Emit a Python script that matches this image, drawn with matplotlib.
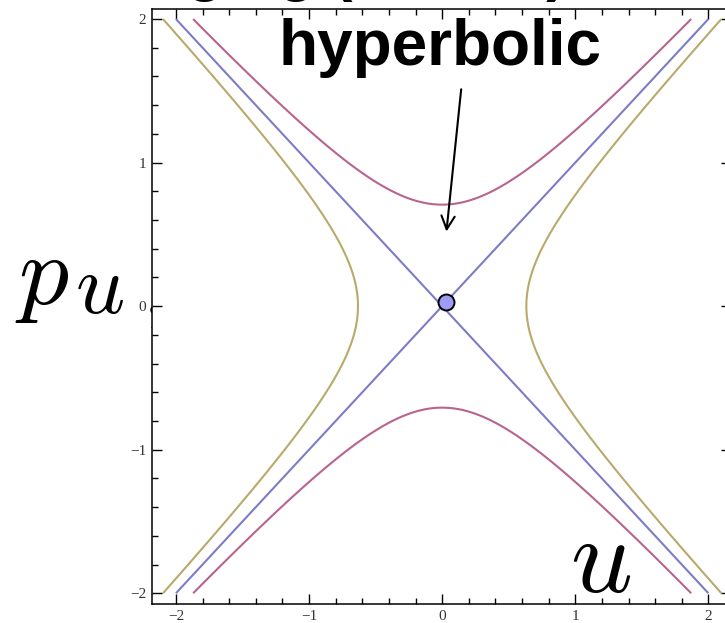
import numpy as np
import matplotlib.pyplot as plt
from matplotlib.ticker import MultipleLocator

plt.rcParams['mathtext.fontset'] = 'cm'

# H(u, p) = (p^2 - u^2) / 2 near the saddle, three energy levels
levels = [-0.2, 0.0, 0.25]
level_colors = ["#b9aa6c", "#7c7cc8", "#b8648f"]

u_range = (-2.25, 2.25)
p_range = (-2.0, 2.0)

fixed_point = (0.03, 0.03)
tick_values = [-2, -1, 0, 1, 2]

W, H_PX = 725, 623
fig = plt.figure(figsize=(W / 100, H_PX / 100), dpi=100)
ax = fig.add_axes([152 / W, 19 / H_PX, 579 / W, 595 / H_PX])

u = np.linspace(*u_range, 901)
p = np.linspace(*p_range, 801)
U, P = np.meshgrid(u, p)
energy = (P ** 2 - U ** 2) / 2
ax.contour(U, P, energy, levels=levels, colors=level_colors, linewidths=1.5)

ax.plot(*fixed_point, 'o', ms=11.5, mfc="#9c9cf4", mec="black", mew=1.4, zorder=5)

ax.set_xlim(-2.18, 2.17)
ax.set_ylim(-2.075, 2.07)
ax.set_xticks(tick_values)
ax.set_yticks(tick_values)
ax.xaxis.set_minor_locator(MultipleLocator(0.2))
ax.yaxis.set_minor_locator(MultipleLocator(0.2))
ax.tick_params(which='both', direction='in', top=True, right=True, width=1,
               labelsize=11, labelcolor="#333333", pad=4)
ax.tick_params(which='major', length=7)
ax.tick_params(which='minor', length=4)
for lab in ax.get_xticklabels() + ax.get_yticklabels():
    lab.set_family('Liberation Serif')
for s in ax.spines.values():
    s.set_linewidth(1.1)

# arrow pointing at the fixed point
ax.annotate("", xy=(0.03, 0.5), xytext=(0.145, 1.53),
            arrowprops=dict(arrowstyle='->', lw=1.5, color='black', mutation_scale=24))

fig.text(440 / W, 1 - 65 / H_PX, "hyperbolic", fontsize=46, fontweight='bold',
         family='Liberation Sans', ha='center', va='baseline')
fig.text(44 / W, 1 + 11.5 / H_PX, "Swinging (saddle)", fontsize=44, fontweight='bold',
         family='Liberation Sans', ha='left', va='baseline')

# axis names, partly tucked behind the frame
fig.text(15 / W, 1 - 304 / H_PX, r"$p$", fontsize=72, va='baseline', zorder=-1)
fig.text(75 / W, 1 - 313 / H_PX, r"$u$", fontsize=62, va='baseline', zorder=-1)
fig.text(143 / W, 1 - 314 / H_PX, r"$,$", fontsize=54, va='baseline', zorder=-1)
fig.text(570 / W, 1 - 592 / H_PX, r"$u$", fontsize=78, va='baseline')

fig.savefig("out.png", dpi=100)
